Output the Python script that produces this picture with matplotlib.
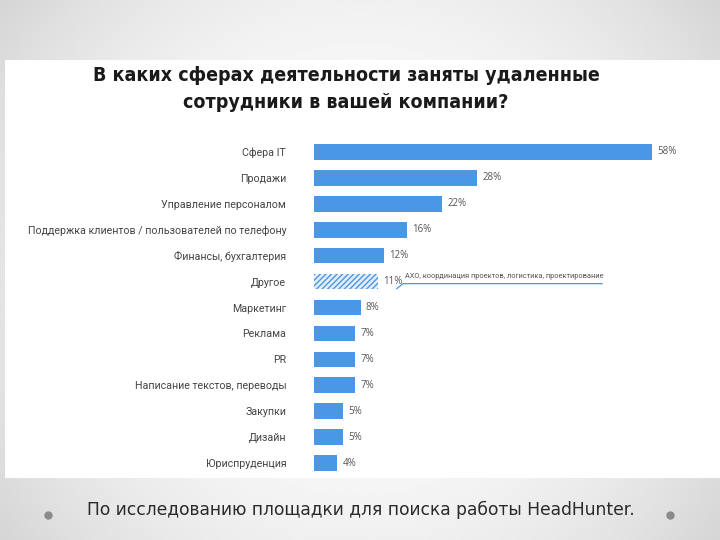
import numpy as np
import matplotlib.pyplot as plt
from matplotlib.patches import Rectangle

# данные опроса HeadHunter
categories = ['Сфера IT', 'Продажи', 'Управление персоналом',
              'Поддержка клиентов / пользователей по телефону',
              'Финансы, бухгалтерия', 'Другое', 'Маркетинг', 'Реклама', 'PR',
              'Написание текстов, переводы', 'Закупки', 'Дизайн', 'Юриспруденция']
values = [58, 28, 22, 16, 12, 11, 8, 7, 7, 7, 5, 5, 4]
other_note = 'АХО, координация проектов, логистика, проектирование'
title = 'В каких сферах деятельности заняты удаленные\nсотрудники в вашей компании?'
footer = 'По исследованию площадки для поиска работы HeadHunter.'

W, H = 720, 540
blue = '#4a97e6'

fig = plt.figure(figsize=(7.2, 5.4), dpi=100)

# фон слайда: серый радиальный градиент
bg = fig.add_axes([0, 0, 1, 1], zorder=-10)
yy, xx = np.mgrid[0:1:200j, 0:1:200j]
r = np.sqrt(((xx - 0.5) / 0.7) ** 2 + ((yy - 0.5) / 0.95) ** 2)
bg.imshow(0.99 - 0.2 * r ** 2.2, cmap='gray', vmin=0, vmax=1,
          extent=[0, 1, 0, 1], aspect='auto')
bg.add_patch(Rectangle((5 / W, 1 - 478 / H), 1, (478 - 60) / H,
                       facecolor='white', edgecolor='none'))
for x in (48, 670):
    bg.plot(x / W, 1 - 515 / H, 'o', color='#8a8a8a', ms=5)
bg.set_xlim(0, 1)
bg.set_ylim(0, 1)
bg.axis('off')

ax = fig.add_axes([314 / W, 1 - 476 / H, 386 / W, 337 / H])
y = np.arange(len(categories))
bars = ax.barh(y, values, height=0.6, color=blue)
# "Другое" заштриховано
other = categories.index('Другое')
bars[other].set_facecolor('#e3eefa')
bars[other].set_edgecolor(blue)
bars[other].set_linewidth(0)
bars[other].set_hatch('//////')

ax.set_xlim(0, 386 / 5.83)
ax.set_ylim(len(categories) - 0.5, -0.5)
ax.set_yticks(y)
ax.set_yticklabels(categories, fontsize=7.7, color='#444444', family='Roboto')
ax.tick_params(axis='y', length=0, pad=20)
ax.set_xticks([])
for s in ax.spines.values():
    s.set_visible(False)
ax.patch.set_alpha(0)

for yi, v in zip(y, values):
    ax.text(v + 0.9, yi, f'{v}%', va='center', ha='left', fontsize=7,
            color='#555555', family='Open Sans')

# выноска для "Другое"
v = values[other]
ax.plot([v + 3.2, v + 4.3, v + 38.4], [other + 0.27, other + 0.08, other + 0.08],
        color=blue, lw=0.9)
ax.text(v + 4.6, other - 0.2, other_note, fontsize=5.3, color='#555555',
        va='center', ha='left', family='Roboto')

fig.text(346 / W, 1 - 89 / H, title, ha='center', va='center', fontsize=14,
         weight='bold', color='#1a1a1a', linespacing=1.5,
         family='DejaVu Sans', stretch='condensed')
fig.text(361 / W, 1 - 510 / H, footer, ha='center', va='center', fontsize=12.3,
         color='#2a2a2a', family='DejaVu Sans')

fig.savefig('out.png', dpi=100)
